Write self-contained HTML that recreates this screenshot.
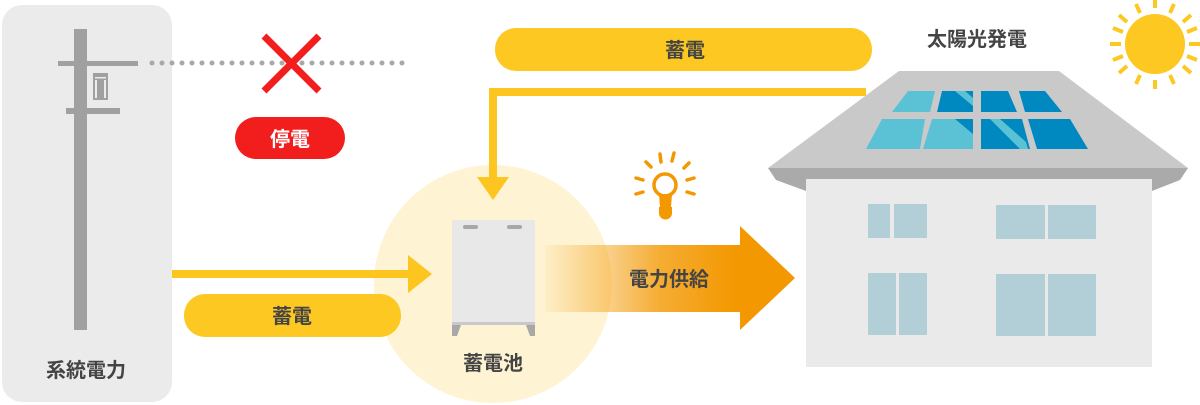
<!DOCTYPE html>
<html><head><meta charset="utf-8"><style>
html,body{margin:0;padding:0;background:#fff;width:1200px;height:405px;overflow:hidden}
svg{display:block}
text{font-family:"Liberation Sans","Noto Sans CJK JP",sans-serif;font-weight:bold}
</style></head><body>
<svg width="1200" height="405" viewBox="0 0 1200 405" xmlns="http://www.w3.org/2000/svg">
<defs>
<linearGradient id="og" x1="545" x2="800" y1="0" y2="0" gradientUnits="userSpaceOnUse">
<stop offset="0" stop-color="#f39800" stop-opacity="0.05"/>
<stop offset="0.45" stop-color="#f39800" stop-opacity="0.8"/>
<stop offset="0.75" stop-color="#f39800"/>
<stop offset="1" stop-color="#f39800"/>
</linearGradient>
</defs>
<!-- left panel -->
<rect x="2" y="5" width="170" height="397" rx="20" fill="#ebebeb"/>
<rect x="74" y="29" width="13" height="301" fill="#a0a0a0"/>
<rect x="58" y="61" width="80" height="5" fill="#a0a0a0"/>
<rect x="66" y="108" width="54" height="6" fill="#a0a0a0"/>
<rect x="93" y="73" width="15" height="27" fill="#a0a0a0"/>
<rect x="95" y="80" width="2" height="18" fill="#ebebeb"/><rect x="104" y="80" width="2" height="18" fill="#ebebeb"/>
<rect x="95" y="77" width="11" height="1.5" fill="#ebebeb"/>
<text x="86" y="377" font-size="20" fill="#444" text-anchor="middle">系統電力</text>
<!-- dotted line -->
<line x1="152" y1="63" x2="410" y2="63" stroke="#a8a8a8" stroke-width="5" stroke-linecap="round" stroke-dasharray="0 10"/>
<!-- red X -->
<line x1="264" y1="36" x2="319" y2="91" stroke="#f21d1d" stroke-width="7"/>
<line x1="319" y1="36" x2="264" y2="91" stroke="#f21d1d" stroke-width="7"/>
<rect x="235" y="117" width="110" height="42" rx="21" fill="#f21d1d"/>
<text x="290" y="146" font-size="20" fill="#fff" text-anchor="middle">停電</text>
<!-- circle -->
<circle cx="493" cy="284" r="119" fill="#fef3d2"/>
<!-- lower arrow -->
<rect x="172" y="270" width="238" height="8" fill="#fdc51f"/>
<polygon points="408,255 432,274 408,293" fill="#fdc51f"/>
<rect x="184" y="294" width="217" height="43" rx="21" fill="#fdc822"/>
<text x="292" y="323" font-size="20" fill="#444" text-anchor="middle">蓄電</text>
<!-- top arrow -->
<rect x="495" y="28" width="377" height="43" rx="21" fill="#fdc822"/>
<text x="685" y="57" font-size="20" fill="#444" text-anchor="middle">蓄電</text>
<polyline points="866,92 493,92 493,178" fill="none" stroke="#fdc51f" stroke-width="8"/>
<polygon points="477,177 509,177 493,200" fill="#fdc51f"/>
<!-- battery -->
<rect x="452" y="220" width="83" height="105" rx="2" fill="#e8e8e8"/>
<rect x="452" y="322" width="83" height="3" fill="#c8c8c8"/>
<polygon points="452,325 461,325 457,336 452,336" fill="#a8a8a8"/>
<polygon points="535,325 526,325 530,336 535,336" fill="#a8a8a8"/>
<rect x="463" y="225" width="15" height="4" rx="2" fill="#a8a8a8"/>
<rect x="507" y="225" width="15" height="4" rx="2" fill="#a8a8a8"/>
<text x="493" y="370" font-size="20" fill="#444" text-anchor="middle">蓄電池</text>
<!-- orange arrow -->
<polygon points="545,245 740,245 740,226 795,278 740,330 740,312 545,312" fill="url(#og)"/>
<text x="669" y="286" font-size="20" fill="#444" text-anchor="middle">電力供給</text>
<!-- bulb -->
<g stroke="#f39800" stroke-width="3.5" stroke-linecap="round" fill="none">
<circle cx="665" cy="185" r="11"/>
<line x1="660" y1="154" x2="661" y2="162"/><line x1="674" y1="153" x2="672" y2="161"/>
<line x1="646" y1="162" x2="651" y2="167"/><line x1="689" y1="163" x2="684" y2="168"/>
<line x1="636" y1="178" x2="643" y2="180"/><line x1="694" y1="178" x2="687" y2="180"/>
<line x1="636" y1="194" x2="643" y2="192"/><line x1="694" y1="194" x2="687" y2="192"/>
</g>
<path d="M659,194 L660,207 L671,207 L672,194 Z" fill="#f39800"/>
<path d="M659,207 h13 v6 a6,6 0 0 1 -13,0 Z" fill="#f39800"/>
<!-- house -->
<polygon points="899,71 1059,71 1188,168 768,168" fill="#c9c9c9"/>
<polygon points="768,168 1188,168 1180,180 776,180" fill="#aaaaaa"/>
<polygon points="776,180 806,180 806,191" fill="#aaaaaa"/>
<polygon points="1180,180 1152,180 1152,191" fill="#aaaaaa"/>
<rect x="806" y="179" width="346" height="188" fill="#eaeaea"/>
<g fill="#b2ced7">
<rect x="868" y="204" width="22" height="34"/><rect x="894" y="204" width="33" height="34"/>
<rect x="996" y="205" width="49" height="34"/><rect x="1048" y="205" width="48" height="34"/>
<rect x="868" y="273" width="28" height="62"/><rect x="899" y="273" width="28" height="62"/>
<rect x="996" y="274" width="49" height="62"/><rect x="1048" y="274" width="48" height="62"/>
</g>
<!-- panels -->
<polygon points="908,91 935,91 930,112 892,112" fill="#5bc2d6"/>
<polygon points="942,91 973,91 973,112 937,112" fill="#0088c0"/>
<polygon points="955,91 965,91 973,98 973,106" fill="#5bc2d6"/>
<polygon points="981,91 1008,91 1017,112 981,112" fill="#0088c0"/>
<polygon points="1019,91 1045,91 1062,112 1025,112" fill="#0088c0"/>
<polygon points="882,119 925,119 920,149 866,149" fill="#5bc2d6"/>
<polygon points="932,119 973,119 973,149 923,149" fill="#5bc2d6"/>
<polygon points="955,119 973,119 973,134" fill="#0088c0"/>
<polygon points="981,119 1022,119 1030,149 981,149" fill="#0088c0"/>
<polygon points="990,119 1000,119 1026,142 1028,149 1020,149" fill="#5bc2d6"/>
<polygon points="1028,119 1070,119 1088,149 1037,149" fill="#0088c0"/>
<text x="977" y="46" font-size="20" fill="#444" text-anchor="middle">太陽光発電</text>
<!-- sun -->
<circle cx="1155" cy="44" r="30" fill="#fdc822"/>
<g stroke="#fdc822" stroke-width="4" stroke-linecap="butt">
<line x1="1155" y1="0" x2="1155" y2="8"/><line x1="1155" y1="80" x2="1155" y2="89"/>
<line x1="1110" y1="44" x2="1121" y2="44"/><line x1="1189" y1="44" x2="1200" y2="44"/>
<line x1="1136" y1="4" x2="1140" y2="13"/><line x1="1174" y1="4" x2="1170" y2="13"/>
<line x1="1136" y1="84" x2="1140" y2="75"/><line x1="1174" y1="84" x2="1170" y2="75"/>
<line x1="1119" y1="15" x2="1127" y2="22"/><line x1="1191" y1="15" x2="1183" y2="22"/>
<line x1="1119" y1="73" x2="1127" y2="66"/><line x1="1191" y1="73" x2="1183" y2="66"/>
<line x1="1113" y1="28" x2="1123" y2="32"/><line x1="1197" y1="28" x2="1187" y2="32"/>
<line x1="1113" y1="60" x2="1123" y2="56"/><line x1="1197" y1="60" x2="1187" y2="56"/>
</g>
</svg>
</body></html>
